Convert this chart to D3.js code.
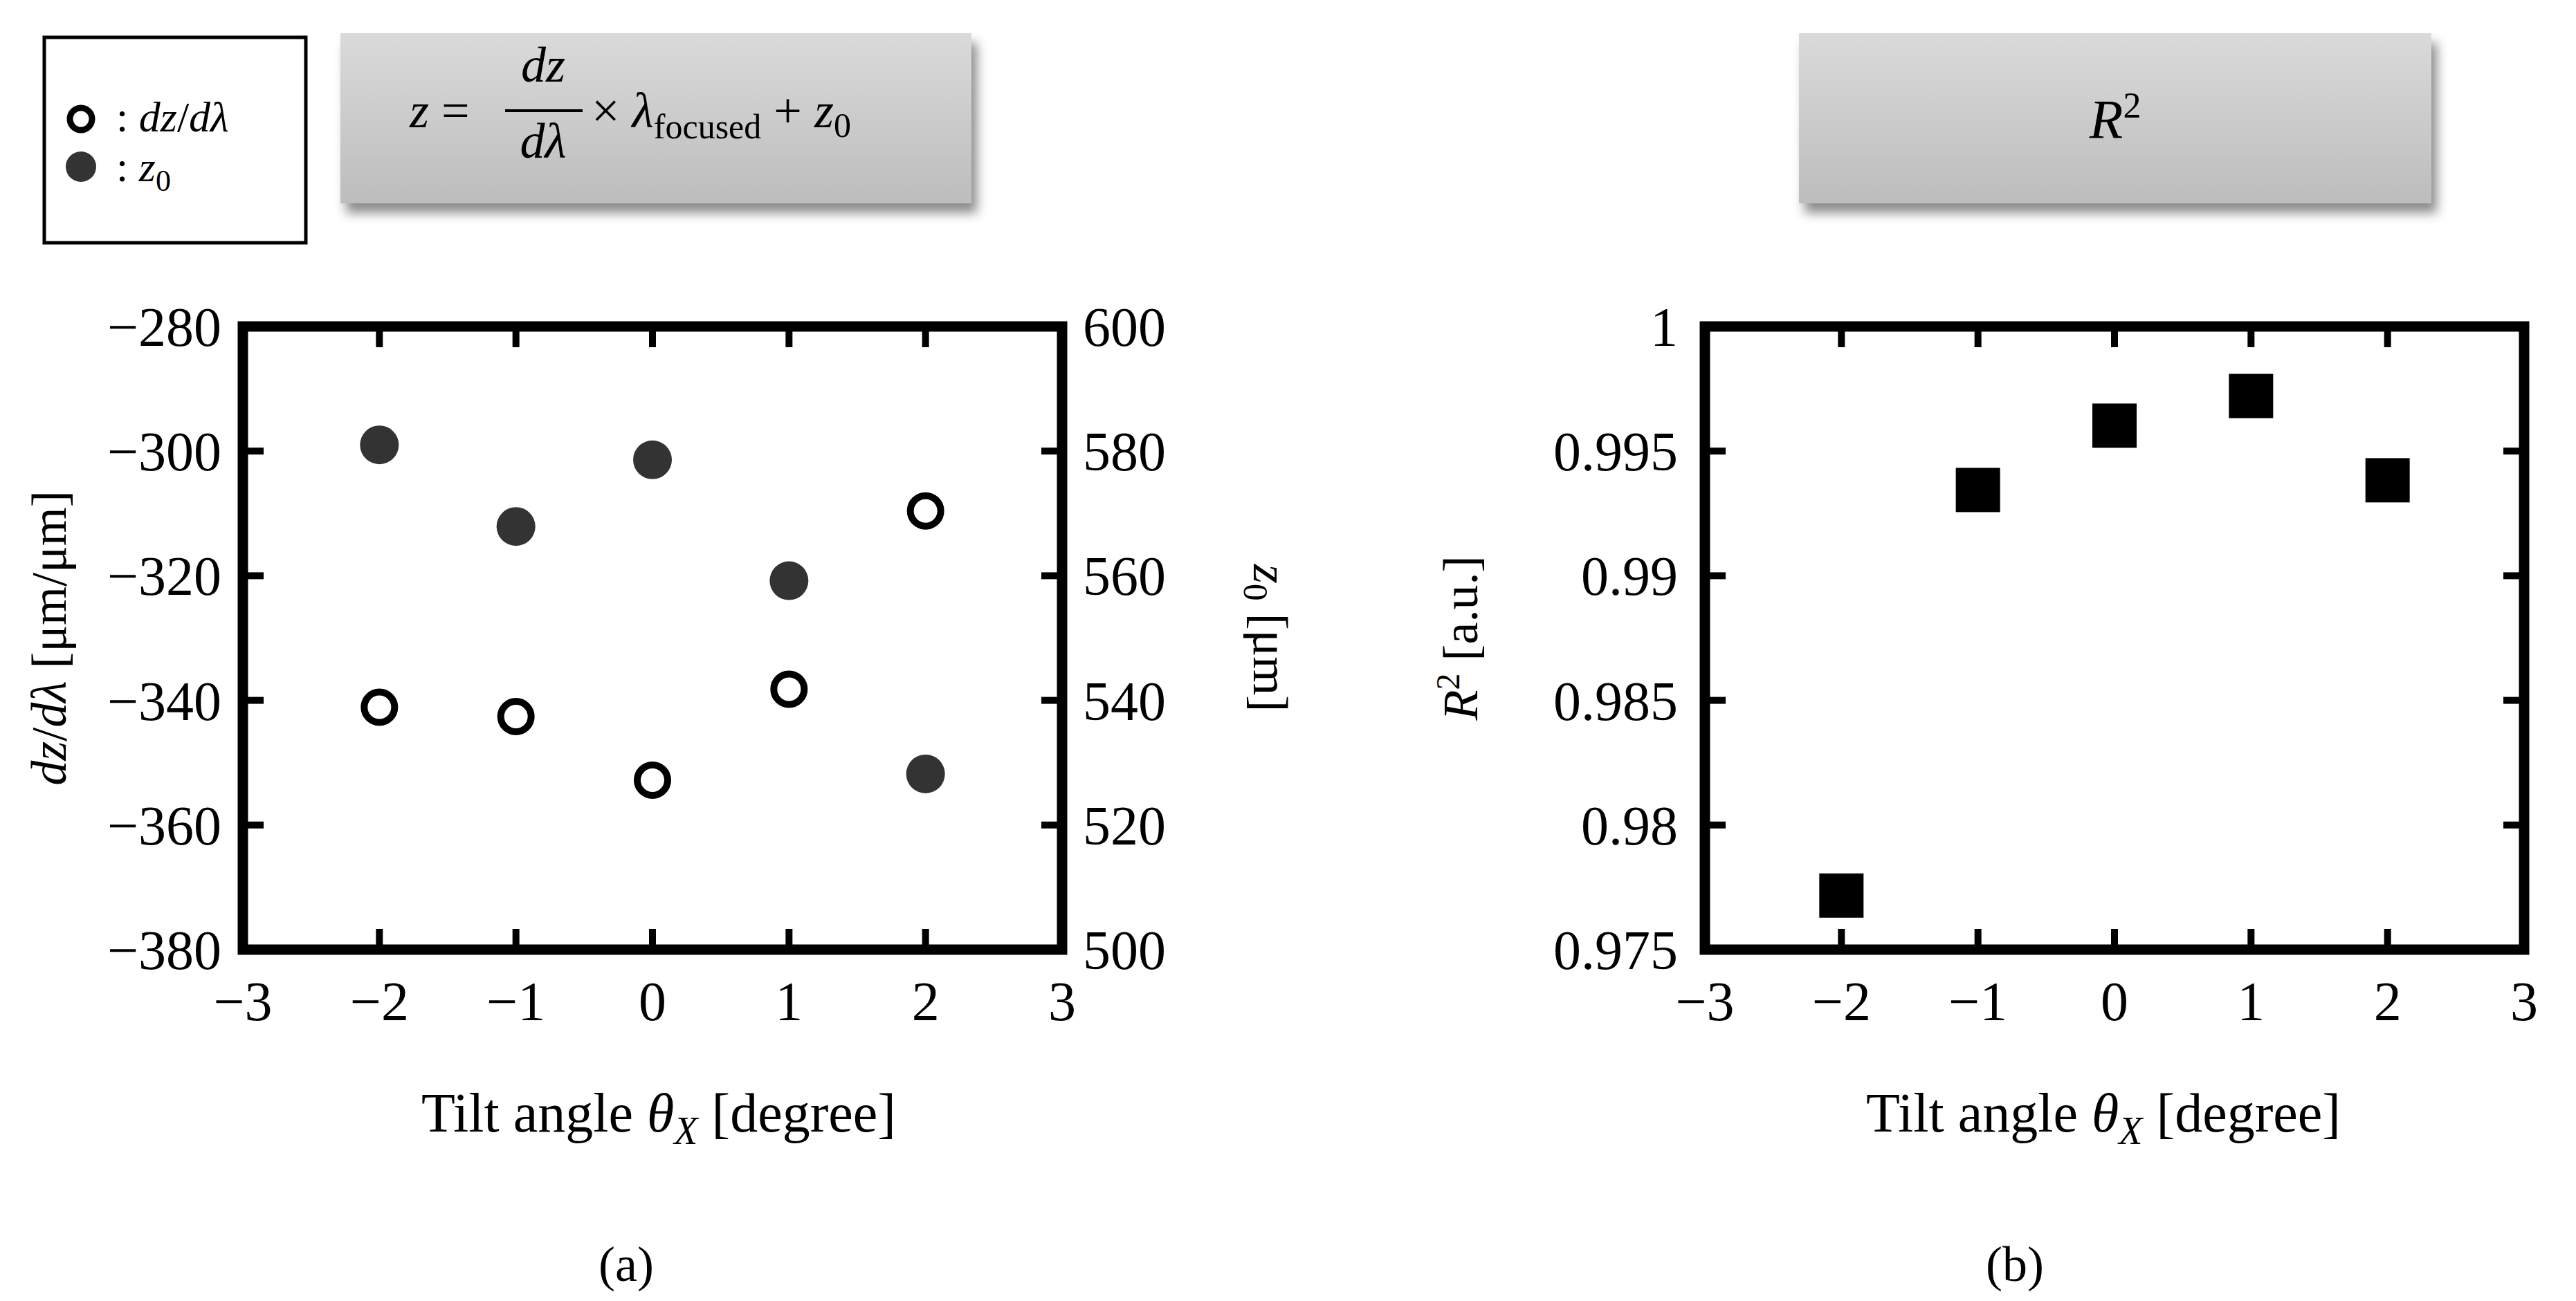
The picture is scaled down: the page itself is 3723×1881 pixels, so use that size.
<!DOCTYPE html>
<html>
<head>
<meta charset="utf-8">
<script src="https://cdn.jsdelivr.net/npm/d3@7"></script>
<style>
  body { margin: 0; background: #fff; }
  text { font-family: "Liberation Serif", serif; fill: #000; }
</style>
</head>
<body>
<script>
// data
const tiltAngles = [-2, -1, 0, 1, 2];
const dzdl = [-341.1, -342.6, -352.8, -338.2, -309.6];
const z0 = [581.0, 567.9, 578.6, 559.2, 528.2];
const rSquared = [0.97717, 0.99344, 0.99602, 0.99721, 0.99383];

const xTicks = [-3, -2, -1, 0, 1, 2, 3];
const leftTicks = [-280, -300, -320, -340, -360, -380];
const rightTicks = [600, 580, 560, 540, 520, 500];
const r2Ticks = [1, 0.995, 0.99, 0.985, 0.98, 0.975];

const W = 3723, H = 1881;
const svg = d3.select("body").append("svg")
    .attr("width", W).attr("height", H)
    .attr("viewBox", [0, 0, W, H]);

const defs = svg.append("defs");
const grad = defs.append("linearGradient").attr("id", "boxGrad")
    .attr("x1", 0).attr("y1", 0).attr("x2", 0).attr("y2", 1);
grad.append("stop").attr("offset", "0%").attr("stop-color", "#dadada");
grad.append("stop").attr("offset", "100%").attr("stop-color", "#bdbdbd");
const shadow = defs.append("filter").attr("id", "shadow")
    .attr("x", "-10%").attr("y", "-10%").attr("width", "130%").attr("height", "140%");
shadow.append("feDropShadow").attr("dx", 8).attr("dy", 14)
    .attr("stdDeviation", 8).attr("flood-color", "#000").attr("flood-opacity", 0.45);

const plotTop = 472, plotBottom = 1373;
const tickLen = 30, frameW = 15, tickW = 10;
const fs = 80;

function frame(g, x) {
    const [x0, x1] = x.range();
    g.append("rect")
        .attr("x", x0).attr("y", plotTop)
        .attr("width", x1 - x0).attr("height", plotBottom - plotTop)
        .attr("fill", "none").attr("stroke", "#000").attr("stroke-width", frameW);
    // inward ticks top and bottom
    const inner = xTicks.slice(1, -1);
    g.selectAll(null).data(inner).join("line")
        .attr("x1", d => x(d)).attr("x2", d => x(d))
        .attr("y1", plotTop).attr("y2", plotTop + tickLen)
        .attr("stroke", "#000").attr("stroke-width", tickW);
    g.selectAll(null).data(inner).join("line")
        .attr("x1", d => x(d)).attr("x2", d => x(d))
        .attr("y1", plotBottom).attr("y2", plotBottom - tickLen)
        .attr("stroke", "#000").attr("stroke-width", tickW);
    g.selectAll(null).data(xTicks).join("text")
        .attr("x", d => x(d)).attr("y", 1475)
        .attr("text-anchor", "middle").attr("font-size", fs)
        .text(d => d < 0 ? "\u2212" + Math.abs(d) : d);
}

function yTicksOn(g, y, ticks, xPos, dir, fmt, labelX, anchor) {
    const inner = ticks.slice(1, -1);
    g.selectAll(null).data(inner).join("line")
        .attr("x1", xPos).attr("x2", xPos + dir * tickLen)
        .attr("y1", d => y(d)).attr("y2", d => y(d))
        .attr("stroke", "#000").attr("stroke-width", tickW);
    g.selectAll(null).data(ticks).join("text")
        .attr("x", labelX).attr("y", d => y(d))
        .attr("dy", "0.35em").attr("text-anchor", anchor)
        .attr("font-size", fs).text(fmt);
}

// ---------- panel (a) ----------
const xa = d3.scaleLinear().domain([-3, 3]).range([351, 1535]);
const yl = d3.scaleLinear().domain([-380, -280]).range([plotBottom, plotTop]);
const yr = d3.scaleLinear().domain([500, 600]).range([plotBottom, plotTop]);
const ga = svg.append("g");
frame(ga, xa);
yTicksOn(ga, yl, leftTicks, 351, 1, d => "\u2212" + Math.abs(d), 320, "end");
yTicksOn(ga, yr, rightTicks, 1535, -1, d => d, 1565, "start");

ga.selectAll(null).data(tiltAngles).join("circle")
    .attr("cx", d => xa(d)).attr("cy", (d, i) => yr(z0[i]))
    .attr("r", 28).attr("fill", "#333");
ga.selectAll(null).data(tiltAngles).join("circle")
    .attr("cx", d => xa(d)).attr("cy", (d, i) => yl(dzdl[i]))
    .attr("r", 22).attr("fill", "#fff").attr("stroke", "#000").attr("stroke-width", 10);

const midY = (plotTop + plotBottom) / 2;
ga.append("text").attr("transform", `translate(95,${midY}) rotate(-90)`)
    .attr("text-anchor", "middle").attr("font-size", 72)
    .html('<tspan font-style="italic">dz</tspan>/<tspan font-style="italic">d\u03bb</tspan>  [\u03bcm/\u03bcm]');
ga.append("text").attr("transform", `translate(1812,${midY}) rotate(90)`)
    .attr("text-anchor", "middle").attr("font-size", 72)
    .html('<tspan font-style="italic">z</tspan><tspan font-size="50" dy="14">0</tspan><tspan dy="-14">  [\u03bcm]</tspan>');
ga.append("text").attr("x", 952).attr("y", 1636).attr("text-anchor", "middle").attr("font-size", 80)
    .html('Tilt angle <tspan font-style="italic">\u03b8</tspan><tspan font-style="italic" font-size="56" dy="18">X</tspan><tspan dy="-18"> [degree]</tspan>');
ga.append("text").attr("x", 905).attr("y", 1852).attr("text-anchor", "middle").attr("font-size", 72).text("(a)");

// ---------- panel (b) ----------
const xb = d3.scaleLinear().domain([-3, 3]).range([2464, 3648]);
const yb = d3.scaleLinear().domain([0.975, 1]).range([plotBottom, plotTop]);
const gb = svg.append("g");
frame(gb, xb);
yTicksOn(gb, yb, r2Ticks, 2464, 1, d => d, 2425, "end");
yTicksOn(gb, yb, r2Ticks, 3648, -1, () => "", 0, "start");
gb.selectAll(null).data(tiltAngles).join("rect")
    .attr("x", d => xb(d) - 32).attr("y", (d, i) => yb(rSquared[i]) - 32)
    .attr("width", 64).attr("height", 64).attr("fill", "#000");

gb.append("text").attr("transform", `translate(2135,${midY}) rotate(-90)`)
    .attr("text-anchor", "middle").attr("font-size", 72)
    .html('<tspan font-style="italic">R</tspan><tspan font-size="48" dy="-26">2</tspan><tspan dy="26">  [a.u.]</tspan>');
gb.append("text").attr("x", 3040).attr("y", 1636).attr("text-anchor", "middle").attr("font-size", 80)
    .html('Tilt angle <tspan font-style="italic">\u03b8</tspan><tspan font-style="italic" font-size="56" dy="18">X</tspan><tspan dy="-18"> [degree]</tspan>');
gb.append("text").attr("x", 2912).attr("y", 1852).attr("text-anchor", "middle").attr("font-size", 72).text("(b)");

// ---------- legend ----------
const lg = svg.append("g");
lg.append("rect").attr("x", 64).attr("y", 54).attr("width", 378).attr("height", 297)
    .attr("fill", "#fff").attr("stroke", "#000").attr("stroke-width", 5);
lg.append("circle").attr("cx", 117).attr("cy", 172).attr("r", 16)
    .attr("fill", "#fff").attr("stroke", "#000").attr("stroke-width", 9);
lg.append("circle").attr("cx", 117).attr("cy", 241).attr("r", 22).attr("fill", "#333");
lg.append("text").attr("x", 168).attr("y", 190).attr("font-size", 62)
    .html(':  <tspan font-style="italic">dz</tspan>/<tspan font-style="italic">d\u03bb</tspan>');
lg.append("text").attr("x", 168).attr("y", 262).attr("font-size", 62)
    .html(':  <tspan font-style="italic">z</tspan><tspan font-size="44" dy="14">0</tspan>');

// ---------- formula boxes ----------
svg.append("rect").attr("x", 492).attr("y", 48).attr("width", 912).attr("height", 246)
    .attr("fill", "url(#boxGrad)").attr("filter", "url(#shadow)");
svg.append("rect").attr("x", 2600).attr("y", 48).attr("width", 914).attr("height", 246)
    .attr("fill", "url(#boxGrad)").attr("filter", "url(#shadow)");

const fg = svg.append("g");
fg.append("text").attr("x", 592).attr("y", 184).attr("font-size", 72)
    .html('<tspan font-style="italic">z</tspan> =');
fg.append("text").attr("x", 785).attr("y", 118).attr("text-anchor", "middle").attr("font-size", 72)
    .attr("font-style", "italic").text("dz");
fg.append("line").attr("x1", 730).attr("x2", 842).attr("y1", 160).attr("y2", 160)
    .attr("stroke", "#000").attr("stroke-width", 4);
fg.append("text").attr("x", 785).attr("y", 228).attr("text-anchor", "middle").attr("font-size", 72)
    .attr("font-style", "italic").text("d\u03bb");
fg.append("text").attr("x", 855).attr("y", 184).attr("font-size", 72)
    .html('\u00d7 <tspan font-style="italic">\u03bb</tspan><tspan font-size="50" dy="16">focused</tspan><tspan dy="-16"> + </tspan><tspan font-style="italic">z</tspan><tspan font-size="50" dy="14">0</tspan>');

svg.append("text").attr("x", 3057).attr("y", 200).attr("text-anchor", "middle").attr("font-size", 80)
    .html('<tspan font-style="italic">R</tspan><tspan font-size="52" dy="-30">2</tspan>');
</script>
</body>
</html>
